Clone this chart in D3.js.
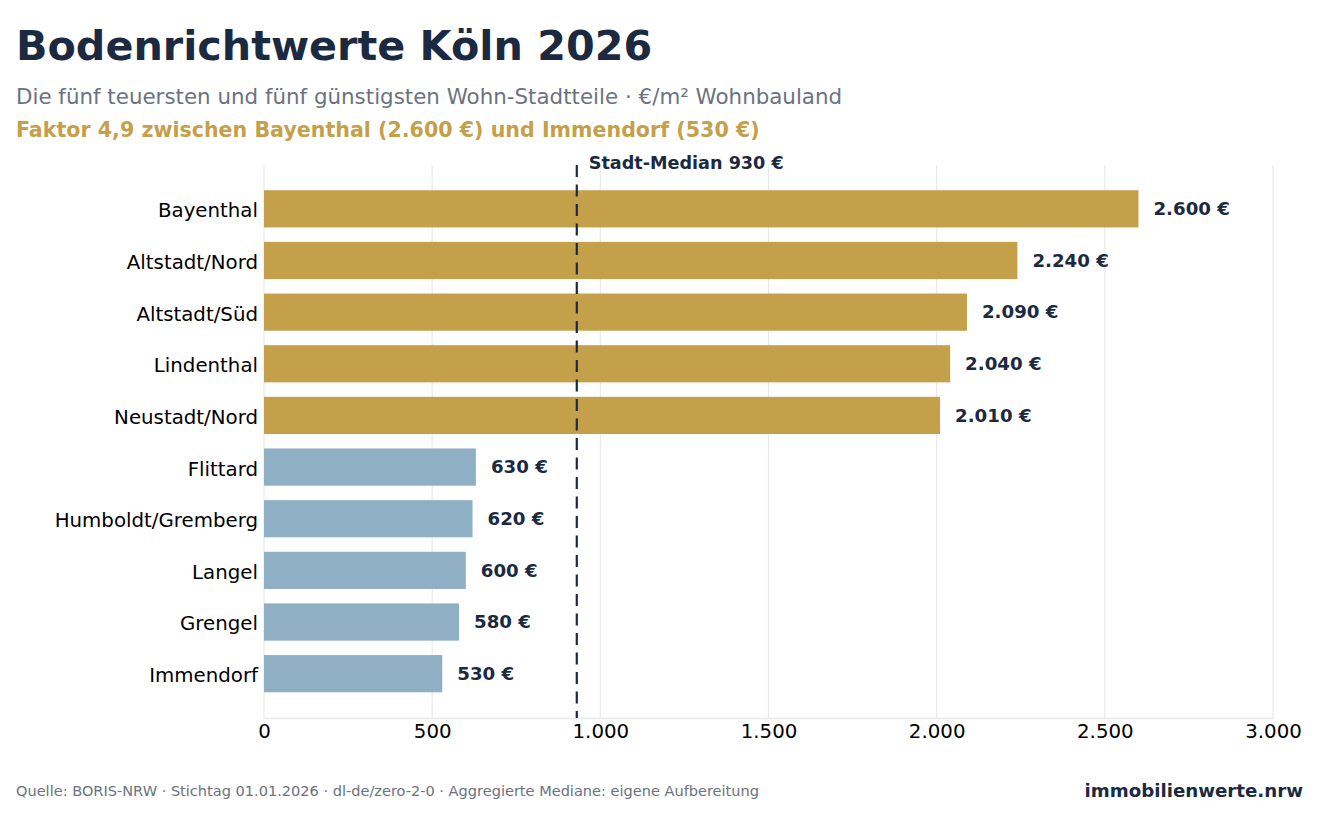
<!DOCTYPE html>
<html>
<head>
<meta charset="utf-8">
<script src="https://cdn.jsdelivr.net/npm/d3@7"></script>
<style>
  body { margin: 0; background: #fff; }
  svg { display: block; font-family: "DejaVu Sans", sans-serif; }
</style>
</head>
<body>
<div id="chart"></div>
<script>
const districts = ["Bayenthal", "Altstadt/Nord", "Altstadt/Süd", "Lindenthal", "Neustadt/Nord",
  "Flittard", "Humboldt/Gremberg", "Langel", "Grengel", "Immendorf"];
const prices = [2600, 2240, 2090, 2040, 2010, 630, 620, 600, 580, 530];
const groups = ["top", "top", "top", "top", "top", "low", "low", "low", "low", "low"];
const xTicks = [0, 500, 1000, 1500, 2000, 2500, 3000];
const median = 930;

const W = 1320, H = 825;
const navy = "#1b2a41", gold = "#c5a04b", blue = "#8fafc5", grey = "#6b7280", grid = "#e8e9ec";
const fmt = d3.formatLocale({decimal: ",", thousands: ".", grouping: [3], currency: ["", " €"]}).format(",d");

const svg = d3.select("#chart").append("svg").attr("width", W).attr("height", H);

// header
svg.append("text").attr("x", 16).attr("y", 60)
  .attr("font-size", 41.3).attr("font-weight", "bold").attr("fill", navy)
  .text("Bodenrichtwerte Köln 2026");
svg.append("text").attr("x", 16).attr("y", 104)
  .attr("font-size", 21.4).attr("fill", grey)
  .text("Die fünf teuersten und fünf günstigsten Wohn-Stadtteile · €/m² Wohnbauland");
svg.append("text").attr("x", 16).attr("y", 137)
  .attr("font-size", 20.6).attr("font-weight", "bold").attr("fill", gold)
  .text("Faktor 4,9 zwischen Bayenthal (2.600 €) und Immendorf (530 €)");

const plot = {left: 264, right: 1273, top: 165, bottom: 718};

const x = d3.scaleLinear().domain([0, 3000]).range([plot.left, plot.right]);
const y = d3.scaleBand().domain(districts).range([183, 699.5]).paddingInner(0.28).paddingOuter(0.14);

// grid
svg.append("g").selectAll("line").data(xTicks).join("line")
  .attr("x1", d => x(d)).attr("x2", d => x(d))
  .attr("y1", plot.top).attr("y2", plot.bottom)
  .attr("stroke", grid).attr("stroke-width", 1.2);

// axis
const xAxis = svg.append("g").attr("transform", `translate(0,${plot.bottom})`)
  .call(d3.axisBottom(x).tickValues(xTicks).tickFormat(d => fmt(d)).tickSize(0).tickPadding(6));
xAxis.select(".domain").attr("stroke", grid).attr("stroke-width", 1.5);
xAxis.selectAll("text").attr("font-size", 19.8).attr("fill", "#000").attr("font-family", "DejaVu Sans");

// bars
svg.append("g").selectAll("rect").data(districts).join("rect")
  .attr("x", x(0))
  .attr("y", d => y(d))
  .attr("width", (d, i) => x(prices[i]) - x(0))
  .attr("height", y.bandwidth())
  .attr("fill", (d, i) => groups[i] === "top" ? gold : blue);

// category labels
svg.append("g").selectAll("text").data(districts).join("text")
  .attr("x", plot.left - 6)
  .attr("y", d => y(d) + y.bandwidth() / 2 + 1.5)
  .attr("dy", "0.35em")
  .attr("text-anchor", "end")
  .attr("font-size", 19.8).attr("fill", "#000")
  .text(d => d);

// value labels
svg.append("g").selectAll("text").data(districts).join("text")
  .attr("x", (d, i) => x(prices[i]) + 15)
  .attr("y", d => y(d) + y.bandwidth() / 2)
  .attr("dy", "0.35em")
  .attr("font-size", 18.2).attr("font-weight", "bold").attr("fill", navy)
  .text((d, i) => fmt(prices[i]) + " €");

// median
svg.append("line")
  .attr("x1", x(median)).attr("x2", x(median))
  .attr("y1", plot.top).attr("y2", plot.bottom)
  .attr("stroke", navy).attr("stroke-width", 2.2)
  .attr("stroke-dasharray", "12,7.5");
svg.append("text").attr("x", x(median) + 12).attr("y", 169)
  .attr("font-size", 17.6).attr("font-weight", "bold").attr("fill", navy)
  .text("Stadt-Median " + fmt(median) + " €");

// footer
svg.append("text").attr("x", 16).attr("y", 796)
  .attr("font-size", 14).attr("fill", grey)
  .attr("textLength", 743).attr("lengthAdjust", "spacingAndGlyphs")
  .text("Quelle: BORIS-NRW · Stichtag 01.01.2026 · dl-de/zero-2-0 · Aggregierte Mediane: eigene Aufbereitung");
svg.append("text").attr("x", 1303).attr("y", 797)
  .attr("text-anchor", "end")
  .attr("font-size", 18.2).attr("font-weight", "bold").attr("fill", navy)
  .text("immobilienwerte.nrw");
</script>
</body>
</html>
